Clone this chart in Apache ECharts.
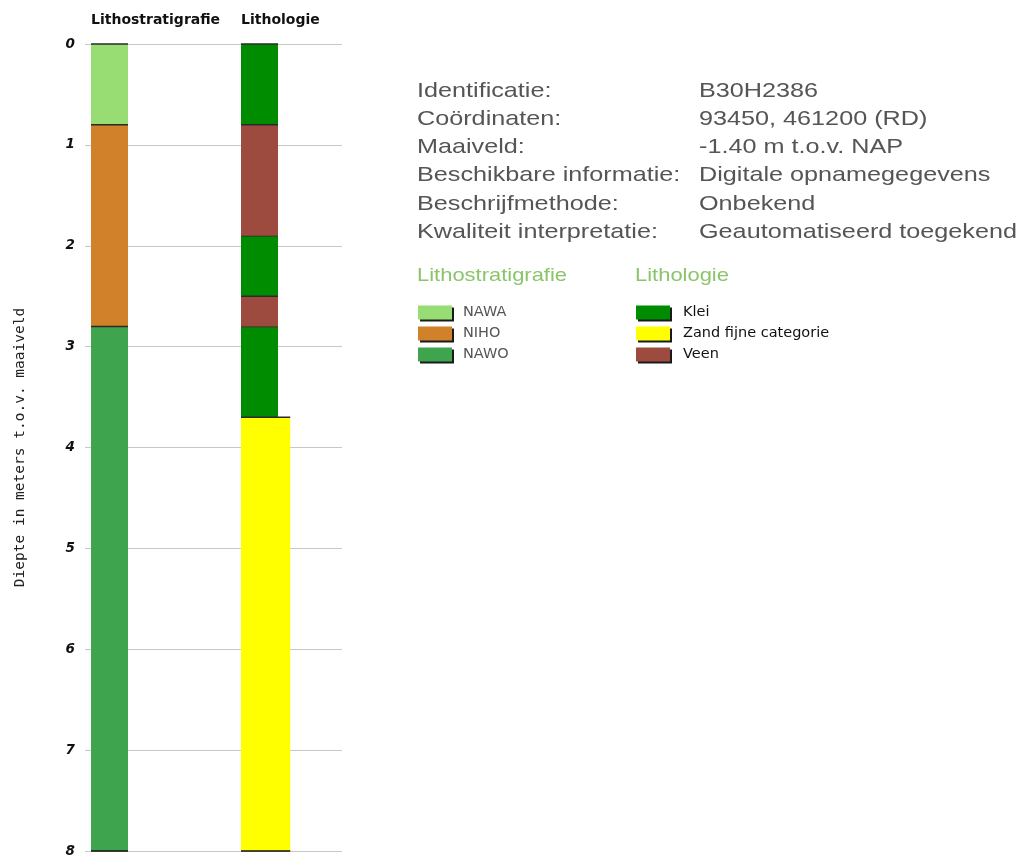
<!DOCTYPE html>
<html>
<head>
<meta charset="utf-8">
<script src="https://cdn.jsdelivr.net/npm/echarts@6/dist/echarts.min.js"></script>
<style>html,body{margin:0;padding:0;background:#fff}#c{width:1026px;height:859px}</style>
</head>
<body>
<div id="c"></div>
<script>
// ---- data ----
const columnNames = ['Lithostratigrafie', 'Lithologie'];
const depthTicks = [0, 1, 2, 3, 4, 5, 6, 7, 8];

const lithostratUnits  = ['NAWA', 'NIHO', 'NAWO'];
const lithostratTop    = [0.0, 0.8, 2.8];
const lithostratBottom = [0.8, 2.8, 8.0];

const lithologyUnits  = ['Klei', 'Veen', 'Klei', 'Veen', 'Klei', 'Zand fijne categorie'];
const lithologyTop    = [0.0, 0.8, 1.9, 2.5, 2.8, 3.7];
const lithologyBottom = [0.8, 1.9, 2.5, 2.8, 3.7, 8.0];

const lithostratLegend = ['NAWA', 'NIHO', 'NAWO'];
const lithologyLegend  = ['Klei', 'Zand fijne categorie', 'Veen'];
const legendTitles = ['Lithostratigrafie', 'Lithologie'];

const infoLabels = ['Identificatie:', 'Coördinaten:', 'Maaiveld:', 'Beschikbare informatie:', 'Beschrijfmethode:', 'Kwaliteit interpretatie:'];
const infoValues = ['B30H2386', '93450, 461200 (RD)', '-1.40 m t.o.v. NAP', 'Digitale opnamegegevens', 'Onbekend', 'Geautomatiseerd toegekend'];

// ---- styles ----
const unitColors = {
  'NAWA': '#98dc74',
  'NIHO': '#d0812a',
  'NAWO': '#3fa44e',
  'Klei': '#008c00',
  'Zand fijne categorie': '#ffff00',
  'Veen': '#9c4b3e'
};
const widthFactor = { 'Zand fijne categorie': 1.33 };
const COL_W = 0.2467;

function buildSeries(colIndex, units, tops, bottoms) {
  const maxDepth = Math.max.apply(null, bottoms);
  const byUnit = {};
  units.forEach((u, i) => {
    (byUnit[u] = byUnit[u] || []).push([colIndex, tops[i], bottoms[i], bottoms[i] === maxDepth ? 1 : 0]);
  });
  return Object.keys(byUnit).map(u => ({
    type: 'custom',
    name: u,
    itemStyle: { color: unitColors[u] },
    encode: { x: 0, y: [1, 2] },
    data: byUnit[u],
    z: 3,
    renderItem: function (params, api) {
      const col = api.value(0), top = api.value(1), bot = api.value(2), isLast = api.value(3);
      const p0 = api.coord([col, top]);
      const p1 = api.coord([col, bot]);
      const w = api.size([COL_W, 0])[0] * (widthFactor[u] || 1);
      const children = [
        { type: 'rect', shape: { x: p0[0], y: p0[1], width: w, height: p1[1] - p0[1] }, style: { fill: api.visual('color') } },
        { type: 'line', shape: { x1: p0[0], y1: p0[1], x2: p0[0] + w, y2: p0[1] }, style: { stroke: '#2a2a2a', lineWidth: 1.6 } }
      ];
      if (isLast) {
        children.push({ type: 'line', shape: { x1: p0[0], y1: p1[1], x2: p0[0] + w, y2: p1[1] }, style: { stroke: '#111', lineWidth: 1.6 } });
      }
      return { type: 'group', children: children };
    }
  }));
}

const series = buildSeries(0, lithostratUnits, lithostratTop, lithostratBottom)
  .concat(buildSeries(1, lithologyUnits, lithologyTop, lithologyBottom));

const infoFont = '21px "Liberation Sans", Arial, sans-serif';
const graphics = [];
infoLabels.forEach((t, i) => {
  graphics.push({ type: 'text', x: 417, y: 91 + i * 28.2, scaleX: 1.2, style: { x: 0, y: 0, text: t, fill: '#555', font: infoFont, verticalAlign: 'middle' } });
  graphics.push({ type: 'text', x: 699, y: 91 + i * 28.2, scaleX: 1.2, style: { x: 0, y: 0, text: infoValues[i], fill: '#555', font: infoFont, verticalAlign: 'middle' } });
});
[417, 635].forEach((x, i) => {
  graphics.push({ type: 'text', x: x, y: 276, scaleX: 1.155, style: { x: 0, y: 0, text: legendTitles[i], fill: '#8cc46c', font: '19px "Liberation Sans", Arial, sans-serif', verticalAlign: 'middle' } });
});

const legendCommon = {
  orient: 'vertical',
  itemWidth: 34,
  itemHeight: 14,
  itemGap: 6,
  icon: 'rect',
  selectedMode: false,
  padding: 0,
  itemStyle: { shadowColor: '#1a1a1a', shadowOffsetX: 2, shadowOffsetY: 2, shadowBlur: 0 },
  textStyle: { fontFamily: '"DejaVu Sans", Verdana, sans-serif', fontSize: 14.5, lineHeight: 15, padding: [0, 0, 0, 6] }
};

const chart = echarts.init(document.getElementById('c'));
chart.setOption({
  animation: false,
  backgroundColor: '#fff',
  legend: [
    Object.assign({}, legendCommon, { data: lithostratLegend, left: 418, top: 305, textStyle: Object.assign({}, legendCommon.textStyle, { color: '#555' }) }),
    Object.assign({}, legendCommon, { data: lithologyLegend, left: 636, top: 305, textStyle: Object.assign({}, legendCommon.textStyle, { color: '#111', padding: [0, 0, 0, 8] }) })
  ],
  grid: { left: 85, right: 684, top: 44, bottom: 8 },
  xAxis: {
    type: 'value',
    position: 'top',
    min: -0.04,
    max: 1.6733,
    axisLine: { show: false },
    axisTick: { show: false },
    splitLine: { show: false },
    axisLabel: {
      customValues: [0, 1],
      formatter: v => columnNames[Math.round(v)],
      align: 'left',
      margin: 17,
      color: '#111',
      fontWeight: 'bold',
      fontSize: 14,
      fontFamily: '"DejaVu Sans", sans-serif'
    }
  },
  yAxis: {
    type: 'value',
    inverse: true,
    min: 0,
    max: 8,
    interval: 1,
    name: 'Diepte in meters t.o.v. maaiveld',
    nameLocation: 'middle',
    nameGap: 57,
    nameTextStyle: { color: '#222', fontSize: 14.5, fontFamily: '"DejaVu Sans Mono", monospace' },
    axisLine: { show: false },
    axisTick: { show: false },
    axisLabel: {
      customValues: depthTicks,
      margin: 10,
      color: '#111',
      fontWeight: 'bold',
      fontStyle: 'italic',
      fontSize: 13.5,
      fontFamily: '"DejaVu Sans", sans-serif'
    },
    splitLine: { show: true, lineStyle: { color: '#c8c8c8', width: 1.2 } }
  },
  graphic: graphics,
  series: series
});
</script>
</body>
</html>
